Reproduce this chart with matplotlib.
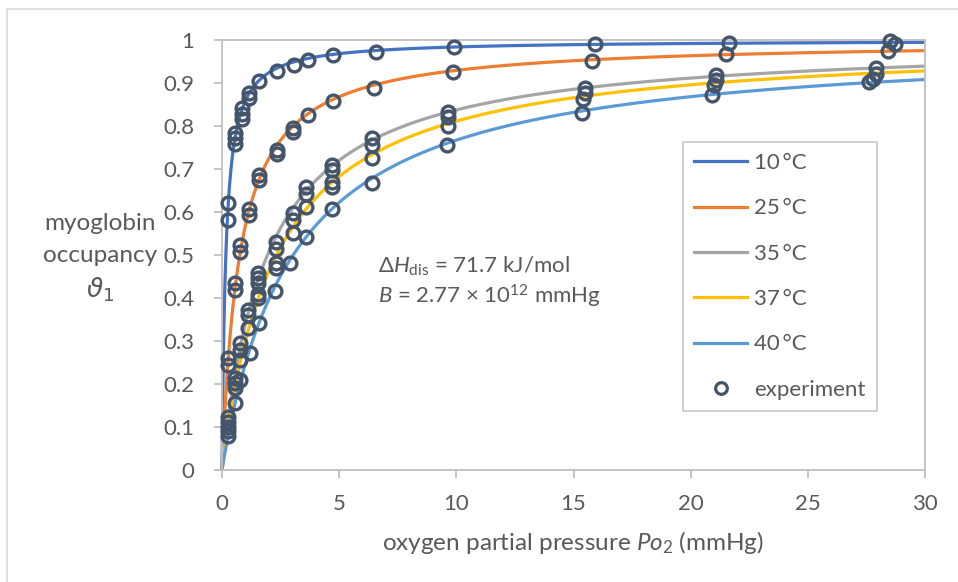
import numpy as np
import matplotlib
matplotlib.use("Agg")
import matplotlib.pyplot as plt
from matplotlib.lines import Line2D
from matplotlib.patches import Rectangle

plt.rcParams['font.family'] = ['Lato', 'DejaVu Sans']
plt.rcParams['mathtext.fontset'] = 'custom'
plt.rcParams['mathtext.rm'] = 'Lato'
plt.rcParams['mathtext.it'] = 'Lato:italic'
plt.rcParams['mathtext.bf'] = 'Lato:bold'

# model parameters printed on the chart
DH_DIS = 71.7e3          # J/mol
B_CONST = 2.77e12        # mmHg
R_GAS = 8.314
temps_c = [10, 25, 35, 37, 40]
temp_labels = ['10\u2009°C', '25\u2009°C', '35\u2009°C', '37\u2009°C', '40\u2009°C']
curve_colors = ['#4472C4', '#ED7D31', '#A5A5A5', '#FFC000', '#5B9BD5']

exp_10_p = [0.24, 0.24, 0.55, 0.55, 0.55, 0.84, 0.84, 0.84, 1.17, 1.17, 1.59, 2.36, 3.09,
            3.68, 4.75, 6.56, 9.9, 15.9, 21.65, 28.5, 28.7]
exp_10_t = [0.622, 0.581, 0.783, 0.771, 0.758, 0.841, 0.828, 0.816, 0.877, 0.864, 0.905,
            0.928, 0.942, 0.953, 0.965, 0.973, 0.983, 0.991, 0.994, 0.997, 0.991]
exp_25_p = [0.24, 0.24, 0.55, 0.55, 0.77, 0.77, 1.17, 1.17, 1.59, 1.59, 2.36, 2.36, 3.04,
            3.04, 3.68, 4.75, 6.49, 9.85, 15.8, 21.5, 28.4]
exp_25_t = [0.26, 0.244, 0.434, 0.418, 0.523, 0.508, 0.608, 0.593, 0.686, 0.674, 0.745,
            0.735, 0.795, 0.786, 0.826, 0.858, 0.888, 0.926, 0.952, 0.967, 0.975]
exp_35_p = [0.27, 0.27, 0.55, 0.55, 0.77, 0.77, 1.12, 1.12, 1.55, 1.55, 2.3, 2.3, 3.02,
            3.02, 3.6, 3.6, 4.68, 4.68, 6.39, 6.39, 9.66, 9.66, 15.5, 15.5, 21.1, 21.1,
            27.9, 27.9]
exp_35_t = [0.124, 0.112, 0.214, 0.202, 0.295, 0.279, 0.372, 0.36, 0.457, 0.446, 0.531,
            0.515, 0.598, 0.581, 0.659, 0.643, 0.709, 0.698, 0.771, 0.756, 0.833, 0.822,
            0.888, 0.876, 0.919, 0.907, 0.934, 0.922]
exp_37_p = [0.27, 0.27, 0.55, 0.77, 1.12, 1.55, 1.55, 1.55, 2.3, 2.3, 3.02, 3.6, 4.68,
            4.68, 6.39, 9.66, 15.4, 21.0, 27.8]
exp_37_t = [0.1, 0.09, 0.19, 0.256, 0.33, 0.434, 0.41, 0.40, 0.481, 0.47, 0.552, 0.612,
            0.670, 0.659, 0.725, 0.80, 0.862, 0.895, 0.909]
exp_40_p = [0.27, 0.55, 0.77, 1.2, 1.59, 2.26, 2.9, 3.58, 4.68, 6.39, 9.6, 15.35, 20.9, 27.6]
exp_40_t = [0.078, 0.155, 0.209, 0.271, 0.343, 0.417, 0.482, 0.543, 0.606, 0.668, 0.756,
            0.830, 0.872, 0.903]

exp_p = exp_10_p + exp_25_p + exp_35_p + exp_37_p + exp_40_p
exp_t = exp_10_t + exp_25_t + exp_35_t + exp_37_t + exp_40_t

x_ticks = [0, 5, 10, 15, 20, 25, 30]
y_ticks = [0, 0.1, 0.2, 0.3, 0.4, 0.5, 0.6, 0.7, 0.8, 0.9, 1]
y_tick_labels = ['0', '0.1', '0.2', '0.3', '0.4', '0.5', '0.6', '0.7', '0.8', '0.9', '1']

W, H = 958, 582
axis_gray = '#BFBFBF'
text_gray = '#595959'
marker_col = '#44546A'
fs_tick = 16
fs_title = 17.5
fs_note = 16
fs_leg = 16

fig = plt.figure(figsize=(W / 100, H / 100), dpi=100)
# chart-area border (runs off the right and bottom edges)
fig.patches.append(Rectangle((7 / W, -0.1), 1.2, 1 - 9 / H + 0.1, transform=fig.transFigure,
                             fill=False, edgecolor='#D9D9D9', linewidth=1.2))

ax = fig.add_axes([222 / W, 1 - 470 / H, (925 - 222) / W, (470 - 40) / H])

p_grid = np.linspace(0, 30, 1500)
for tc, lab, col in zip(temps_c, temp_labels, curve_colors):
    k_dis = B_CONST * np.exp(-DH_DIS / (R_GAS * (tc + 273.15)))
    ax.plot(p_grid, p_grid / (p_grid + k_dis), color=col, linewidth=2.3, label=lab,
            solid_capstyle='butt', clip_on=False, zorder=2)

ax.plot(exp_p, exp_t, linestyle='none', marker='o', markersize=9.2, markerfacecolor='none',
        markeredgecolor=marker_col, markeredgewidth=2.4, label='experiment', zorder=3,
        clip_on=False)

ax.set_xlim(0, 30)
ax.set_ylim(0, 1)
ax.set_xticks(x_ticks)
ax.set_yticks(y_ticks)
ax.set_yticklabels(y_tick_labels)
for s in ax.spines.values():
    s.set_color(axis_gray)
    s.set_linewidth(1.3)
ax.tick_params(axis='both', direction='out', length=6, width=1.3, color=axis_gray,
               labelcolor=text_gray, labelsize=fs_tick)
ax.tick_params(axis='y', pad=14)
ax.tick_params(axis='x', pad=11)

# axis titles
fig.text(100 / W, 1 - 224 / H, 'myoglobin', ha='center', va='center', fontsize=fs_title,
         color=text_gray)
fig.text(100 / W, 1 - 256 / H, 'occupancy', ha='center', va='center', fontsize=fs_title,
         color=text_gray)
fig.text(100 / W, 1 - 290 / H, r'$\vartheta_1$', ha='center', va='center', fontsize=19,
         color=text_gray, math_fontfamily='dejavusans')
fig.text(573 / W, 1 - 543 / H, r'oxygen partial pressure $\mathit{Po}_2$ (mmHg)',
         ha='center', va='center', fontsize=fs_title, color=text_gray)

# fit parameters
fig.text(378 / W, 1 - 266 / H, r'Δ$\mathit{H}_{\mathrm{dis}}$ = 71.7 kJ/mol', ha='left',
         va='center', fontsize=fs_note, color=text_gray)
fig.text(378 / W, 1 - 296 / H, r'$\mathit{B}$ = 2.77 × 10$^{12}$ mmHg', ha='left',
         va='center', fontsize=fs_note, color=text_gray)

handles = [Line2D([], [], color=c, linewidth=2.3) for c in curve_colors]
handles.append(Line2D([], [], linestyle='none', marker='o', markersize=8.4, markerfacecolor='none',
                      markeredgecolor=marker_col, markeredgewidth=2.3))
leg = fig.legend(handles, temp_labels + ['experiment'], loc='upper left',
                 bbox_to_anchor=(683 / W, 1 - 142 / H), fontsize=fs_leg, frameon=True,
                 fancybox=False, edgecolor=axis_gray, handlelength=2.4, handletextpad=0.3,
                 labelspacing=1.14, borderpad=0.5, borderaxespad=0)
leg.get_frame().set_linewidth(1.3)
for t in leg.get_texts():
    t.set_color(text_gray)

fig.savefig('out.png', dpi=100)
